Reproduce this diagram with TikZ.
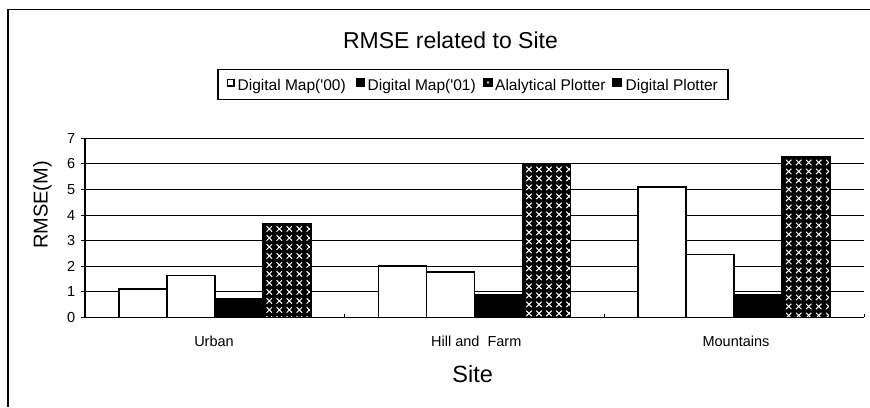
\documentclass[tikz,border=0pt]{standalone}
\usepackage{fontspec}
\setmainfont{Liberation Sans}
\newcommand\plainbar[4]{%
  \pgfmathsetmacro\xa{#1-96+48*#2}%
  \pgfmathsetmacro\xb{\xa+48}%
  \pgfmathsetmacro\yt{317.3-#3*25.57}%
  \draw[#4] (\xa,317.3) rectangle (\xb,\yt);}
\newcommand\crossbar[3]{%
  \pgfmathsetmacro\xa{#1-96+48*#2}%
  \pgfmathsetmacro\xb{\xa+48}%
  \pgfmathsetmacro\yt{317.3-#3*25.57}%
  \begin{scope}
    \clip (\xa,317.3) rectangle (\xb,\yt);
    \fill[black] (\xa,317.3) rectangle (\xb,\yt);
    \foreach \i in {0,...,4}{
      \foreach \j in {0,...,18}{
        \pgfmathsetmacro\px{\xa+6.5+10*\i}
        \pgfmathsetmacro\py{\yt+5.5+9*\j}
        \draw[xmark] ({\px-2.7},{\py-2.7}) -- ({\px+2.7},{\py+2.7})
                     ({\px-2.7},{\py+2.7}) -- ({\px+2.7},{\py-2.7});
      }}
  \end{scope}
  \draw[barline] (\xa,317.3) rectangle (\xb,\yt);}
\begin{document}
\begin{tikzpicture}[x=1pt,y=-1pt,
  barline/.style={draw=black,line width=1.6pt},
  whitebar/.style={barline,fill=white},
  blackbar/.style={barline,fill=black},
  xmark/.style={white,line width=1pt},
  gridline/.style={black,line width=1pt},
  lab/.style={inner sep=0pt,font=\fontsize{14.5}{14.5}\selectfont},
  legtext/.style={inner sep=0pt,anchor=base west,font=\fontsize{15.5}{15.5}\selectfont},
  legsq/.style={line width=1.2pt,draw=black}]
\useasboundingbox (0,0) rectangle (870,407);
\fill[white] (0,0) rectangle (870,407);
% outer frame
\draw[line width=1.4pt] (8,407) -- (8,9.5) -- (870,9.5);
% title
\node[inner sep=0pt,anchor=base,font=\fontsize{23}{23}\selectfont] (title) at (450.5,48.3) {RMSE related to Site};
% legend
\draw[line width=1.1pt] (218,69.3) rectangle (728,99.3);
\draw[legsq,fill=white,line width=1.8pt] (227.5,79.5) rectangle (234,86);
\node[legtext] (l1) at (237.5,90) {Digital Map(\textquotesingle 00)};
\draw[legsq,fill=black] (357,79) rectangle (364,86.5);
\node[legtext] (l2) at (367.5,90) {Digital Map(\textquotesingle 01)};
\draw[legsq,fill=black] (484,79) rectangle (492,86.5);
\draw[white,line width=0.5pt] (487,81.5) -- (489,83.5) (487,83.5) -- (489,81.5);
\node[legtext] (l3) at (495,90) {Alalytical Plotter};
\draw[legsq,fill=black] (613,79) rectangle (621.5,86.5);
\node[legtext] (l4) at (625.5,90) {Digital Plotter};
% gridlines
\foreach \k in {1,...,7}{
  \draw[gridline] (85,{317.3-\k*25.57}) -- (864,{317.3-\k*25.57});
}
% bars
\plainbar{214.8}{0}{1.1}{whitebar}
\plainbar{214.8}{1}{1.63}{whitebar}
\plainbar{214.8}{2}{0.72}{blackbar}
\crossbar{214.8}{3}{3.67}
\plainbar{474.5}{0}{2.0}{whitebar}
\plainbar{474.5}{1}{1.78}{whitebar}
\plainbar{474.5}{2}{0.88}{blackbar}
\crossbar{474.5}{3}{6.0}
\plainbar{734.2}{0}{5.1}{whitebar}
\plainbar{734.2}{1}{2.45}{whitebar}
\plainbar{734.2}{2}{0.88}{blackbar}
\crossbar{734.2}{3}{6.27}
% axes
\draw[line width=1.2pt] (85,138.3) -- (85,317.3) -- (864,317.3);
\foreach \k in {0,...,7}{
  \draw[line width=1pt] (81,{317.3-\k*25.57}) -- (85,{317.3-\k*25.57});
  \node[lab,anchor=east] (t\k) at (75.5,{317.3-\k*25.57}) {\k};
}
\foreach \i in {1,2,3}{
  \draw[line width=1pt] ({85+259.67*\i},317.3) -- ({85+259.67*\i},313.5);
}
% axis labels
\node[lab,anchor=base] (c1) at (214,346.7) {Urban};
\node[lab,anchor=base] (c2) at (476.3,346.7) {Hill and\ \ Farm};
\node[lab,anchor=base] (c3) at (736,346.7) {Mountains};
\node[inner sep=0pt,anchor=base,font=\fontsize{23.5}{23.5}\selectfont] (xl) at (472.7,382.7) {Site};
\node[inner sep=0pt,rotate=90,font=\fontsize{20}{20}\selectfont] (yl) at (42.5,205) {RMSE(M)};
\end{tikzpicture}
\end{document}
